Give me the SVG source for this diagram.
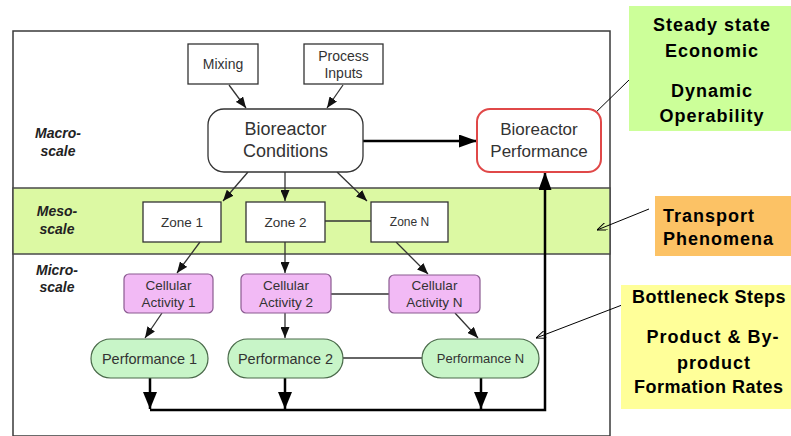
<svg xmlns="http://www.w3.org/2000/svg" width="791" height="436" viewBox="0 0 791 436">
<style>
.frame{fill:#fff;stroke:#3a3a3a;stroke-width:1.5}
.band{fill:#dcf9a3;stroke:#4a4a4a;stroke-width:1.5}
.box{fill:#fff;stroke:#333;stroke-width:1.3}
.ca{fill:#f2baf5;stroke:#8a5a90;stroke-width:1.2}
.pf{fill:#c8f5c8;stroke:#4a6a4a;stroke-width:1.2}
.t{font-family:"Liberation Sans",Arial,sans-serif;text-anchor:middle;fill:#333}
.lbl{font-family:"Liberation Sans",Arial,sans-serif;font-weight:bold;font-style:italic;font-size:14px;text-anchor:middle;fill:#222}
.co{font-family:"Liberation Sans",Arial,sans-serif;font-weight:bold;font-size:18px;letter-spacing:1px;fill:#000}
.c{stroke:#333;stroke-width:1.3;fill:none}
.k{stroke:#000;stroke-width:2.5;fill:none}
.ar{stroke:#000;stroke-width:1;fill:none}
</style>
<defs>
<marker id="sm" markerUnits="userSpaceOnUse" markerWidth="11" markerHeight="9" refX="11" refY="4.5" orient="auto"><path d="M0,0 L11,4.5 L0,9 z" fill="#111"/></marker>
<marker id="bg" markerUnits="userSpaceOnUse" markerWidth="18" markerHeight="13" refX="18" refY="6.5" orient="auto"><path d="M0,0 L18,6.5 L0,13 z" fill="#000"/></marker>
<marker id="bt" markerUnits="userSpaceOnUse" markerWidth="17" markerHeight="14" refX="17" refY="7" orient="auto"><path d="M0,0 L17,7 L0,14 z" fill="#000"/></marker>
<marker id="op" markerUnits="userSpaceOnUse" markerWidth="10" markerHeight="8" refX="10" refY="4" orient="auto"><path d="M0,0 L10,4 L0,8" fill="none" stroke="#000" stroke-width="1"/></marker>
</defs>
<rect class="frame" x="13" y="31" width="597" height="405"/>
<rect class="band" x="13" y="188" width="597" height="66"/>
<text class="lbl" x="58" y="138">Macro-</text>
<text class="lbl" x="58" y="156">scale</text>
<text class="lbl" x="57" y="216">Meso-</text>
<text class="lbl" x="57" y="234">scale</text>
<text class="lbl" x="57" y="275">Micro-</text>
<text class="lbl" x="57" y="292">scale</text>
<g id="connectors">
<line class="c" x1="229" y1="85" x2="246" y2="108" marker-end="url(#sm)"/>
<line class="c" x1="343" y1="85" x2="327" y2="108" marker-end="url(#sm)"/>
<line class="k" x1="363" y1="141" x2="477" y2="141" marker-end="url(#bg)"/>
<line class="c" x1="248" y1="172" x2="223" y2="201" marker-end="url(#sm)"/>
<line class="c" x1="285" y1="172" x2="285" y2="201" marker-end="url(#sm)"/>
<line class="c" x1="337" y1="172" x2="367" y2="201" marker-end="url(#sm)"/>
<line class="c" x1="325" y1="221" x2="371" y2="221"/>
<line class="c" x1="200" y1="242" x2="177" y2="273" marker-end="url(#sm)"/>
<line class="c" x1="285" y1="242" x2="285" y2="273" marker-end="url(#sm)"/>
<line class="c" x1="396" y1="242" x2="428" y2="274" marker-end="url(#sm)"/>
<line class="c" x1="331" y1="294" x2="389" y2="294"/>
<line class="c" x1="162" y1="313" x2="145" y2="338" marker-end="url(#sm)"/>
<line class="c" x1="285" y1="313" x2="285" y2="338" marker-end="url(#sm)"/>
<line class="c" x1="455" y1="313" x2="478" y2="338" marker-end="url(#sm)"/>
<line class="c" x1="343" y1="358" x2="422" y2="358"/>
<line class="k" x1="150" y1="378" x2="150" y2="409" marker-end="url(#bt)"/>
<line class="k" x1="285" y1="378" x2="285" y2="409" marker-end="url(#bt)"/>
<line class="k" x1="481" y1="378" x2="481" y2="409" marker-end="url(#bt)"/>
<polyline class="k" points="150,410 545,410 545,172" marker-end="url(#bg)"/>
<line class="ar" x1="629" y1="80" x2="589" y2="119" marker-end="url(#op)"/>
<line class="ar" x1="649" y1="209" x2="597" y2="230" marker-end="url(#op)"/>
<line class="ar" x1="622" y1="305" x2="536" y2="338" marker-end="url(#op)"/>
</g>
<g id="mixing"><rect class="box" x="188" y="44" width="70" height="40"/><text class="t" x="223" y="69" font-size="14">Mixing</text></g>
<g id="process-inputs"><rect class="box" x="304" y="44" width="79" height="40"/><text class="t" x="343.5" y="61" font-size="14">Process</text><text class="t" x="343.5" y="78" font-size="14">Inputs</text></g>
<g id="bioreactor-conditions"><rect class="box" x="208" y="109" width="155" height="63" rx="16"/><text class="t" x="285.5" y="135" font-size="18">Bioreactor</text><text class="t" x="285.5" y="157" font-size="18">Conditions</text></g>
<g id="bioreactor-performance"><rect x="477" y="109" width="124" height="63" rx="13" fill="#fff" stroke="#e04848" stroke-width="2"/><text class="t" x="539" y="135" font-size="17" fill="#555">Bioreactor</text><text class="t" x="539" y="157" font-size="17" fill="#555">Performance</text></g>
<g id="zone1"><rect class="box" x="143" y="202" width="78" height="40"/><text class="t" x="182" y="227" font-size="13.5">Zone 1</text></g>
<g id="zone2"><rect class="box" x="246" y="202" width="79" height="40"/><text class="t" x="285.5" y="227" font-size="13.5">Zone 2</text></g>
<g id="zoneN"><rect class="box" x="371" y="202" width="77" height="40"/><text class="t" x="409.5" y="226" font-size="12">Zone N</text></g>
<g id="cellular1"><rect class="ca" x="124" y="274" width="89" height="39" rx="5"/><text class="t" x="168.5" y="290" font-size="13.5" fill="#4a3a55">Cellular</text><text class="t" x="168.5" y="307" font-size="13.5" fill="#4a3a55">Activity 1</text></g>
<g id="cellular2"><rect class="ca" x="241" y="274" width="90" height="39" rx="5"/><text class="t" x="286" y="290" font-size="13.5" fill="#4a3a55">Cellular</text><text class="t" x="286" y="307" font-size="13.5" fill="#4a3a55">Activity 2</text></g>
<g id="cellularN"><rect class="ca" x="389" y="275" width="91" height="38" rx="5"/><text class="t" x="434.5" y="290" font-size="13.5" fill="#4a3a55">Cellular</text><text class="t" x="434.5" y="307" font-size="13.5" fill="#4a3a55">Activity N</text></g>
<g id="perf1"><rect class="pf" x="91" y="339" width="117" height="39" rx="19.5"/><text class="t" x="149.5" y="364" font-size="14.5" fill="#234023">Performance 1</text></g>
<g id="perf2"><rect class="pf" x="228" y="339" width="115" height="39" rx="19.5"/><text class="t" x="285.5" y="364" font-size="14.5" fill="#234023">Performance 2</text></g>
<g id="perfN"><rect class="pf" x="422" y="339" width="117" height="39" rx="19.5"/><text class="t" x="480.5" y="363" font-size="13" fill="#234023">Performance N</text></g>
<g id="callout-steady"><rect x="629" y="6" width="162" height="125" fill="#ccff99"/>
<text class="co" x="712" y="31" text-anchor="middle">Steady state</text>
<text class="co" x="712" y="57" text-anchor="middle">Economic</text>
<text class="co" x="712" y="97" text-anchor="middle">Dynamic</text>
<text class="co" x="712" y="122" text-anchor="middle">Operability</text></g>
<g id="callout-transport"><rect x="655" y="196" width="136" height="60" fill="#fcc265"/>
<text class="co" x="663" y="222">Transport</text>
<text class="co" x="663" y="245">Phenomena</text></g>
<g id="callout-bottleneck"><rect x="621" y="285" width="170" height="124" fill="#ffff99"/>
<text class="co" x="632" y="303" style="letter-spacing:0.5px">Bottleneck Steps</text>
<text class="co" x="713" y="343" text-anchor="middle">Product &amp; By-</text>
<text class="co" x="714" y="369" text-anchor="middle">product</text>
<text class="co" x="634" y="393" style="letter-spacing:0.5px">Formation Rates</text></g>
</svg>
